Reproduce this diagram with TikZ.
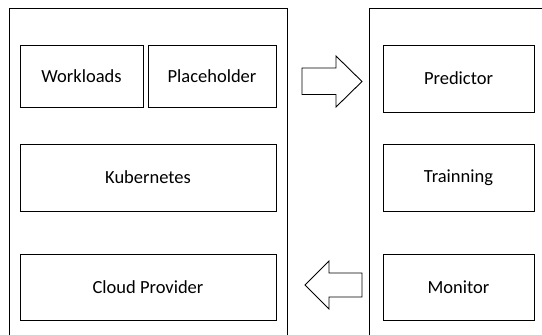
\documentclass[tikz,border=0pt]{standalone}
\usepackage{fontspec}
\setmainfont{Carlito}
\begin{document}
\begin{tikzpicture}[x=1pt,y=-1pt,
  frame/.style={draw=black,line width=0.9pt},
  box/.style={draw=black,line width=0.9pt,inner sep=0pt,font=\fontsize{18.5}{22}\selectfont},
  blockarrow/.style={draw=black,line width=0.9pt,fill=white,line join=miter}]
\useasboundingbox (0,0) rectangle (542,335);
% outer frames
\draw[frame] (9.5,340) -- (9.5,8) -- (287,8) -- (287,340);
\draw[frame] (369,340) -- (369,8) -- (550,8);
% left boxes
\node[box,minimum width=123pt,minimum height=62pt] (work) at (81.5,76) {Workloads};
\node[box,minimum width=128pt,minimum height=62pt] (place) at (212,76) {Placeholder};
\node[box,minimum width=256pt,minimum height=67pt] (kube) at (148,177.5) {Kubernetes};
\node[box,minimum width=256pt,minimum height=66pt] (cloud) at (148,287) {Cloud Provider};
% right boxes
\node[box,minimum width=151pt,minimum height=67pt] (pred) at (458.5,78.5) {Predictor};
\node[box,minimum width=151pt,minimum height=67pt] (train) at (458.5,177.5) {Trainning};
\node[box,minimum width=151pt,minimum height=66pt] (mon) at (458.5,287) {Monitor};
% block arrows
\draw[blockarrow] (302,68) -- (336,68) -- (336,56) -- (362,81.5) -- (336,107) -- (336,94.5) -- (302,94.5) -- cycle;
\draw[blockarrow] (362,273) -- (329,273) -- (329,261) -- (305,285) -- (329,309) -- (329,297) -- (362,297) -- cycle;
\end{tikzpicture}
\end{document}
